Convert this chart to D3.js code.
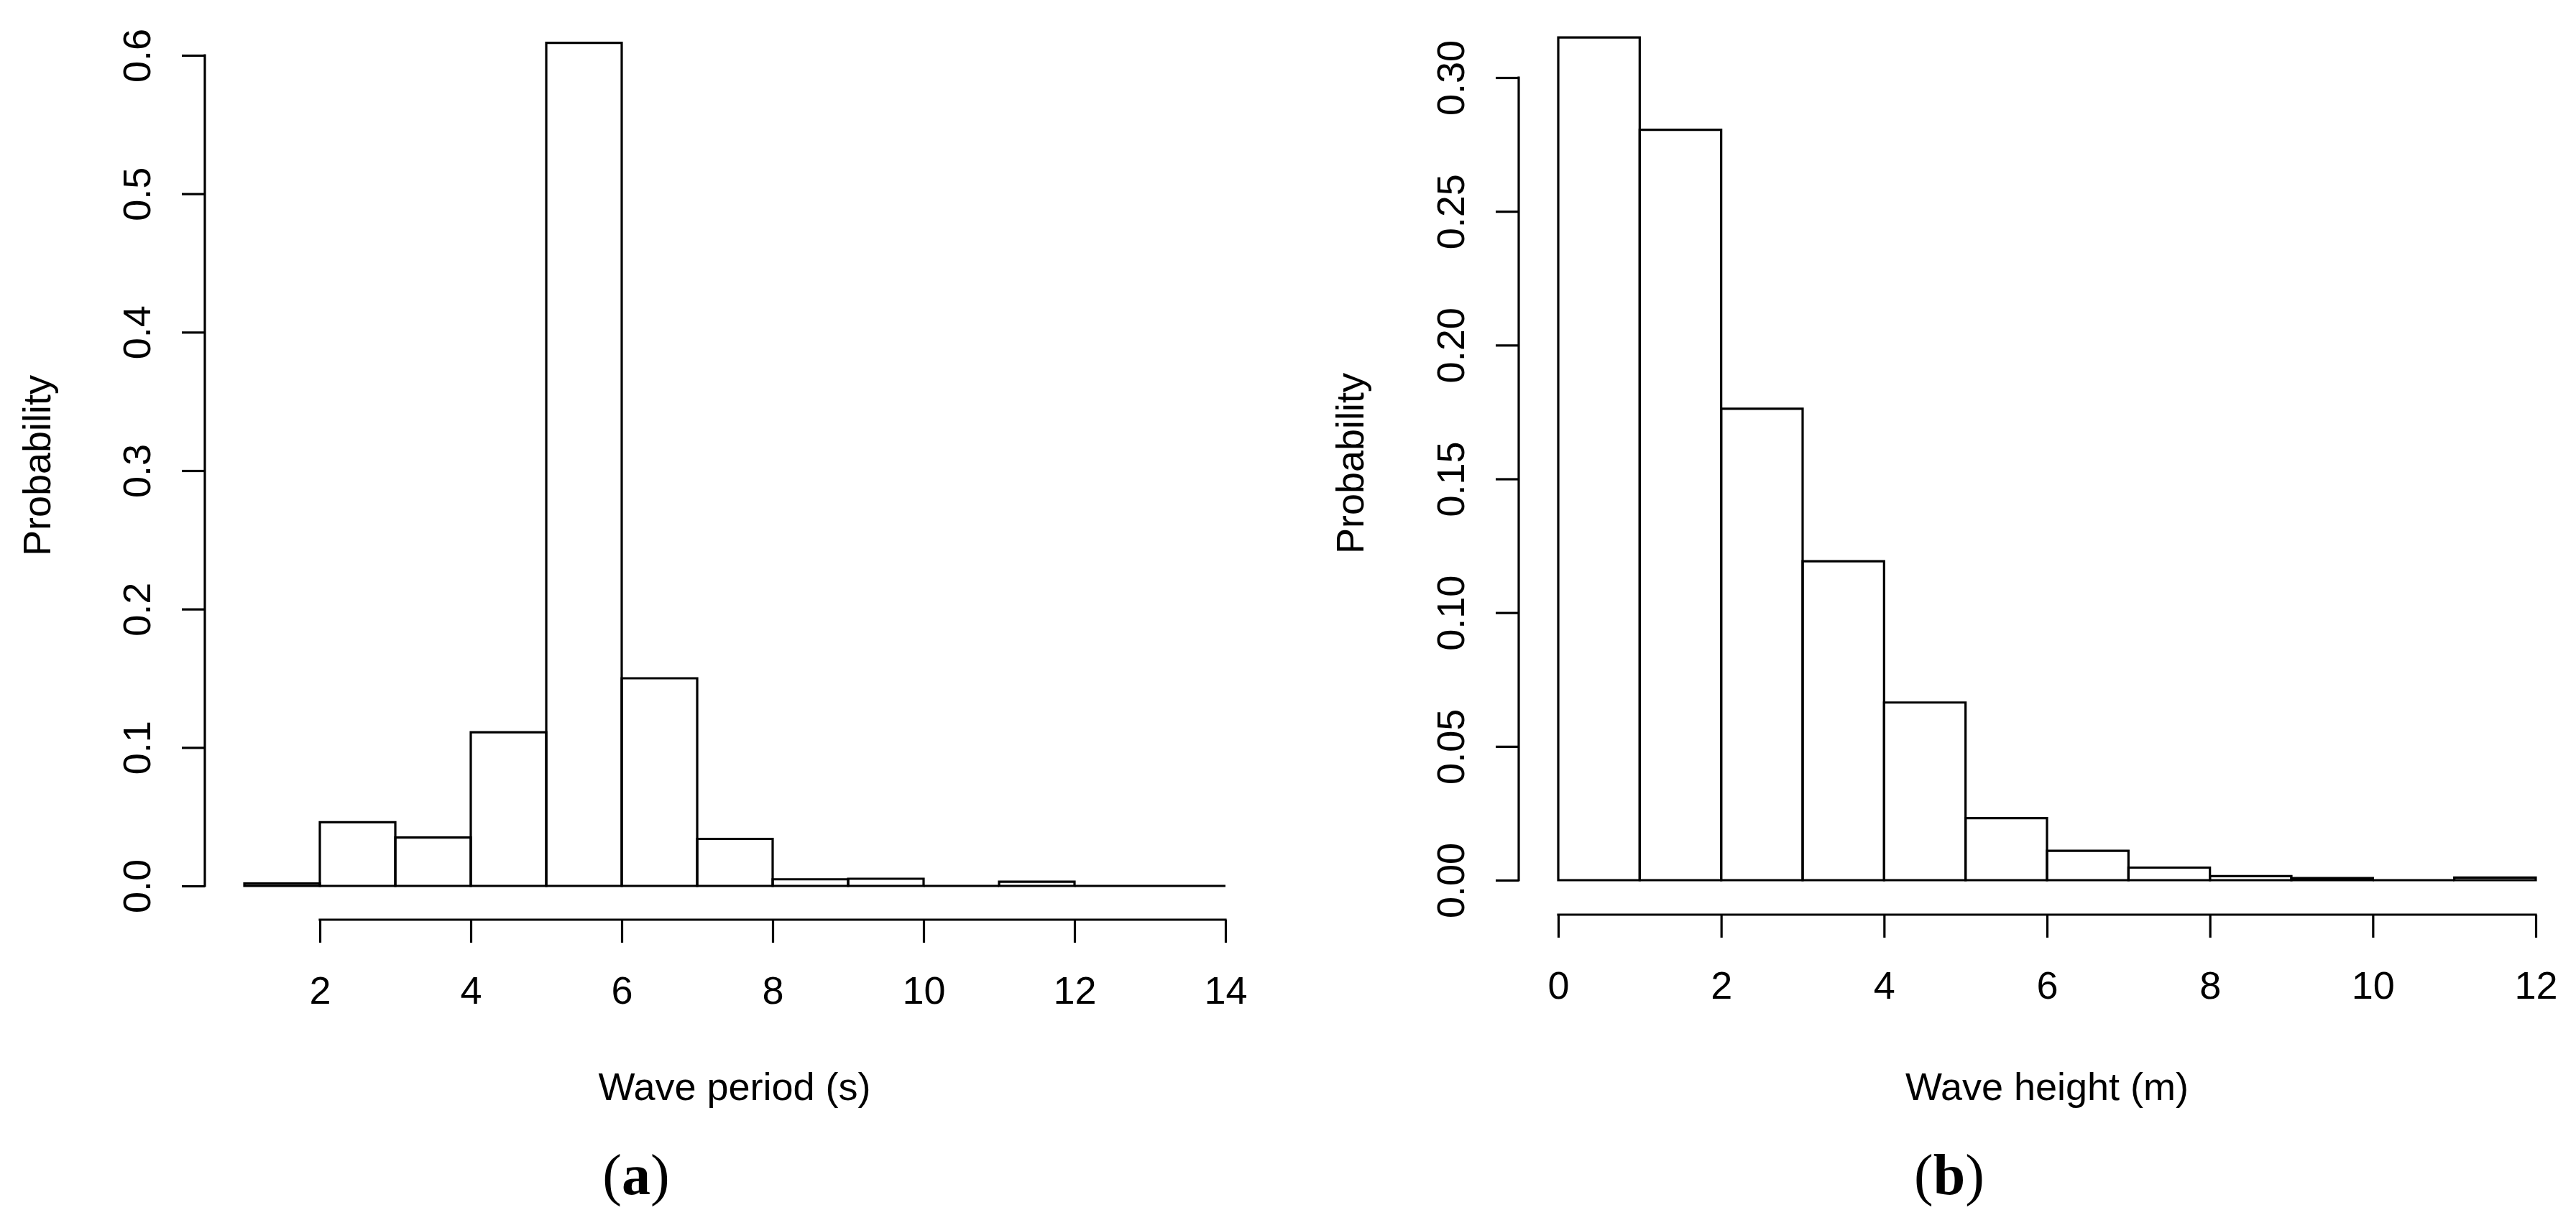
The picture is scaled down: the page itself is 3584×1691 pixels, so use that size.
<!DOCTYPE html>
<html>
<head>
<meta charset="utf-8">
<script src="https://cdn.jsdelivr.net/npm/d3@7"></script>
<style>
    body { margin: 0; background: #fff; }
    svg text { fill: #000; }
</style>
</head>
<body>
<div id="chart"></div>
<script>
// Panel (a): wave period histogram, bins of 1 s from 1 to 14
const periodEdges = [1, 2, 3, 4, 5, 6, 7, 8, 9, 10, 11, 12, 13, 14];
const periodProb = [0.0018, 0.046, 0.035, 0.111, 0.609, 0.150, 0.034, 0.0048, 0.0052, 0, 0.003, 0, 0];
const periodXTicks = [2, 4, 6, 8, 10, 12, 14];
const periodYTicks = [0, 0.1, 0.2, 0.3, 0.4, 0.5, 0.6];

// Panel (b): wave height histogram, bins of 1 m from 0 to 12
const heightEdges = [0, 1, 2, 3, 4, 5, 6, 7, 8, 9, 10, 11, 12];
const heightProb = [0.315, 0.2805, 0.1762, 0.1192, 0.0664, 0.0232, 0.011, 0.0047, 0.0015, 0.0008, 0, 0.001];
const heightXTicks = [0, 2, 4, 6, 8, 10, 12];
const heightYTicks = [0, 0.05, 0.10, 0.15, 0.20, 0.25, 0.30];

const width = 3584;
const height = 1691;
const font = "'Liberation Sans', Arial, sans-serif";
const lw = 3.2;

const svg = d3.select("#chart")
    .append("svg")
    .attr("width", width)
    .attr("height", height);

function drawPanel(cfg) {
    const g = svg.append("g");
    const x = d3.scaleLinear().domain(cfg.xDomain).range(cfg.xRange);
    const y = d3.scaleLinear().domain(cfg.yDomain).range(cfg.yRange);

    // bars drawn as paths so zero-height bins still show as a line
    const bins = cfg.prob.map((p, i) => ({ x0: cfg.edges[i], x1: cfg.edges[i + 1], p }));
    g.selectAll(".bar")
        .data(bins)
        .enter().append("path")
        .attr("class", "bar")
        .attr("d", d => `M${x(d.x0)},${y(0)}V${y(d.p)}H${x(d.x1)}V${y(0)}Z`)
        .attr("fill", "none")
        .attr("stroke", "#000")
        .attr("stroke-width", lw)
        .attr("stroke-linejoin", "miter");

    // x axis (line spans first to last tick, like R)
    const xAxis = g.append("g")
        .attr("transform", `translate(0,${cfg.xAxisY})`)
        .call(d3.axisBottom(x).tickValues(cfg.xTicks).tickSize(32).tickSizeOuter(0).tickFormat(d3.format("d")));
    xAxis.select(".domain").remove();
    xAxis.selectAll(".tick line").attr("stroke-width", lw);
    xAxis.selectAll(".tick text")
        .attr("y", 117)
        .attr("dy", 0)
        .style("font-family", font)
        .style("font-size", "54px");
    xAxis.append("line")
        .attr("x1", x(cfg.xTicks[0]))
        .attr("x2", x(cfg.xTicks[cfg.xTicks.length - 1]))
        .attr("stroke", "#000")
        .attr("stroke-width", lw)
        .attr("stroke-linecap", "square");

    // y axis with labels rotated along the axis
    const yAxis = g.append("g")
        .attr("transform", `translate(${cfg.yAxisX},0)`)
        .call(d3.axisLeft(y).tickValues(cfg.yTicks).tickSize(32).tickSizeOuter(0).tickFormat(d3.format(cfg.yFormat)));
    yAxis.select(".domain").remove();
    yAxis.selectAll(".tick line").attr("stroke-width", lw);
    yAxis.selectAll(".tick text")
        .attr("x", 0)
        .attr("dy", 0)
        .attr("text-anchor", "middle")
        .attr("transform", "translate(-76,0) rotate(-90)")
        .style("font-family", font)
        .style("font-size", "54px");
    yAxis.append("line")
        .attr("y1", y(cfg.yTicks[0]))
        .attr("y2", y(cfg.yTicks[cfg.yTicks.length - 1]))
        .attr("stroke", "#000")
        .attr("stroke-width", lw)
        .attr("stroke-linecap", "square");

    // axis titles
    g.append("text")
        .attr("x", cfg.xLabelX)
        .attr("y", 1531)
        .attr("text-anchor", "middle")
        .style("font-family", font)
        .style("font-size", "54px")
        .text(cfg.xLabel);

    g.append("text")
        .attr("transform", `translate(${cfg.yLabelX},${cfg.yLabelY}) rotate(-90)`)
        .attr("text-anchor", "middle")
        .style("font-family", font)
        .style("font-size", "54px")
        .text("Probability");

    // panel letter
    const tag = g.append("text")
        .attr("x", cfg.tagX)
        .attr("y", 1662)
        .attr("text-anchor", "middle")
        .style("font-family", "'Liberation Serif', 'Times New Roman', serif")
        .style("font-size", "80px");
    tag.append("tspan").text("(");
    tag.append("tspan").style("font-weight", "bold").text(cfg.tag);
    tag.append("tspan").text(")");
}

drawPanel({
    edges: periodEdges, prob: periodProb,
    xDomain: [1, 14], xRange: [340, 1705],
    yDomain: [0, 0.6], yRange: [1233, 77],
    xTicks: periodXTicks, yTicks: periodYTicks, yFormat: ".1f",
    xAxisY: 1280, yAxisX: 285,
    xLabel: "Wave period (s)", xLabelX: 1022,
    yLabelX: 70, yLabelY: 648,
    tag: "a", tagX: 885
});

drawPanel({
    edges: heightEdges, prob: heightProb,
    xDomain: [0, 12], xRange: [2168, 3528],
    yDomain: [0, 0.3], yRange: [1225, 108],
    xTicks: heightXTicks, yTicks: heightYTicks, yFormat: ".2f",
    xAxisY: 1273, yAxisX: 2113,
    xLabel: "Wave height (m)", xLabelX: 2848,
    yLabelX: 1897, yLabelY: 645,
    tag: "b", tagX: 2712
});
</script>
</body>
</html>
